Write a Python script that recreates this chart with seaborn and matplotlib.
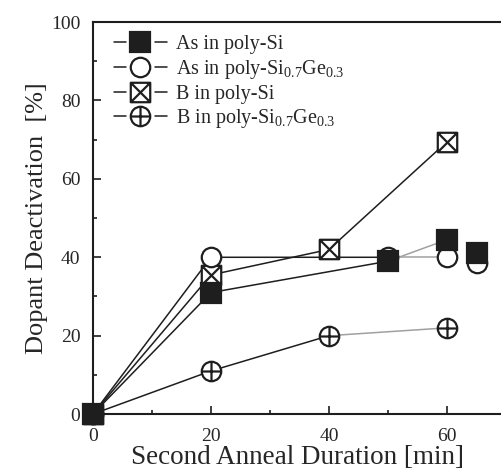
import matplotlib
matplotlib.use("Agg")
import matplotlib.pyplot as plt
import seaborn as sns
from matplotlib.path import Path
from matplotlib.lines import Line2D
from matplotlib.legend_handler import HandlerBase
from matplotlib.ticker import MultipleLocator

# ---- data ----
as_si_x = [0, 20, 50]
as_si_y = [0, 31, 39]
as_si_ext_x = [50, 60]
as_si_ext_y = [39, 44.5]
as_si_extra_x = [65]
as_si_extra_y = [41]

as_sige_x = [0, 20, 50]
as_sige_y = [0, 40, 40]
as_sige_ext_x = [50, 60]
as_sige_ext_y = [40, 40]
as_sige_extra_x = [65]
as_sige_extra_y = [38.5]

b_si_x = [0, 20, 40, 60]
b_si_y = [0, 35.5, 42, 69.5]

b_sige_x = [0, 20, 40]
b_sige_y = [0, 11, 20]
b_sige_ext_x = [40, 60]
b_sige_ext_y = [20, 22]

labels = ["As in poly-Si",
          r"As in poly-Si$_{\mathrm{0.7}}$Ge$_{\mathrm{0.3}}$",
          "B in poly-Si",
          r"B in poly-Si$_{\mathrm{0.7}}$Ge$_{\mathrm{0.3}}$"]

sns.set_style("ticks")
plt.rcParams["font.family"] = ["Liberation Serif", "DejaVu Serif"]
plt.rcParams["mathtext.fontset"] = "custom"
plt.rcParams["mathtext.rm"] = "Liberation Serif"
plt.rcParams["mathtext.it"] = "Liberation Serif:italic"

M, L, C = Path.MOVETO, Path.LINETO, Path.CLOSEPOLY
sq = Path([(-1, -1), (1, -1), (1, 1), (-1, 1), (-1, -1)], [M, L, L, L, C])
xsq = Path.make_compound_path(sq, Path([(-1, -1), (1, 1)]), Path([(-1, 1), (1, -1)]))
cplus = Path.make_compound_path(Path.unit_circle(), Path([(-1, 0), (1, 0)]), Path([(0, -1), (0, 1)]))

BLK = "#1e1e1e"
GRY = "#a0a0a0"

fig = plt.figure(figsize=(5.02, 4.70), dpi=100)
ax = fig.add_axes([0.185, 0.119, 0.815, 0.834])

lw = 1.1
for xs, ys in [(as_si_x, as_si_y), (as_sige_x, as_sige_y), (b_si_x, b_si_y), (b_sige_x, b_sige_y)]:
    sns.lineplot(x=xs, y=ys, color=BLK, lw=lw, ax=ax, zorder=2, sort=False)
for xs, ys in [(as_si_ext_x, as_si_ext_y), (as_sige_ext_x, as_sige_ext_y), (b_sige_ext_x, b_sige_ext_y)]:
    sns.lineplot(x=xs, y=ys, color=GRY, lw=lw, ax=ax, zorder=2, sort=False)

mew = 1.6
circ_kw = dict(marker="o", markersize=14, markerfacecolor="white", markeredgecolor=BLK, markeredgewidth=mew)
sq_kw = dict(marker="s", markersize=15, markerfacecolor=BLK, markeredgecolor=BLK, markeredgewidth=mew)
xsq_kw = dict(marker=xsq, markersize=14, markerfacecolor="white", markeredgecolor=BLK, markeredgewidth=mew)
cp_kw = dict(marker=cplus, markersize=14, markerfacecolor="white", markeredgecolor=BLK, markeredgewidth=mew)

def pts(xs, ys, kw, z):
    sns.lineplot(x=xs, y=ys, linestyle="none", ax=ax, zorder=z, clip_on=False, sort=False, **kw)

pts(b_sige_x + b_sige_ext_x[1:], b_sige_y + b_sige_ext_y[1:], cp_kw, 3)
pts(b_si_x, b_si_y, xsq_kw, 3)
pts(as_sige_x + as_sige_ext_x[1:] + as_sige_extra_x, as_sige_y + as_sige_ext_y[1:] + as_sige_extra_y, circ_kw, 4)
pts(as_si_x + as_si_ext_x[1:] + as_si_extra_x, as_si_y + as_si_ext_y[1:] + as_si_extra_y, sq_kw, 5)

ax.set_xlim(0, 69.3)
ax.set_ylim(0, 100)
ax.xaxis.set_major_locator(MultipleLocator(20))
ax.xaxis.set_minor_locator(MultipleLocator(10))
ax.yaxis.set_major_locator(MultipleLocator(20))
ax.yaxis.set_minor_locator(MultipleLocator(10))
ax.tick_params(which="both", direction="in", top=False, right=False, labelsize=14, color=BLK, width=1.2)
ax.tick_params(which="major", length=6)
ax.tick_params(which="minor", length=3)
ax.tick_params(axis="y", which="major", pad=9)
ax.tick_params(axis="x", which="major", pad=10)
for s in ["left", "bottom", "top"]:
    ax.spines[s].set_linewidth(1.5)
    ax.spines[s].set_color(BLK)
ax.spines["right"].set_visible(False)

ax.set_xlabel("Second Anneal Duration [min]", fontsize=19.5, labelpad=0)
ax.set_ylabel("Dopant Deactivation  [%]", fontsize=19, labelpad=2)


class DashMarkerHandler(HandlerBase):
    def create_artists(self, legend, orig_handle, xdescent, ydescent, width, height, fontsize, trans):
        y = height / 2 - ydescent
        x0 = -xdescent
        left = Line2D([x0, x0 + 0.22 * width], [y, y], color=BLK, lw=lw, transform=trans)
        right = Line2D([x0 + 0.78 * width, x0 + width], [y, y], color=BLK, lw=lw, transform=trans)
        mk = Line2D([x0 + 0.5 * width], [y], linestyle="none", transform=trans,
                    marker=orig_handle.get_marker(), markersize=orig_handle.get_markersize(),
                    markerfacecolor=orig_handle.get_markerfacecolor(),
                    markeredgecolor=orig_handle.get_markeredgecolor(),
                    markeredgewidth=orig_handle.get_markeredgewidth())
        return [left, right, mk]


handles = [
    Line2D([], [], **sq_kw),
    Line2D([], [], **circ_kw),
    Line2D([], [], **xsq_kw),
    Line2D([], [], **cp_kw),
]
ax.legend(handles, labels, loc="upper left", bbox_to_anchor=(0.02, 1.0), frameon=False,
          fontsize=14.5, handlelength=2.6, handletextpad=0.45, labelspacing=0.18,
          borderaxespad=0.25, handler_map={Line2D: DashMarkerHandler()})

fig.savefig("out.png", dpi=100)
